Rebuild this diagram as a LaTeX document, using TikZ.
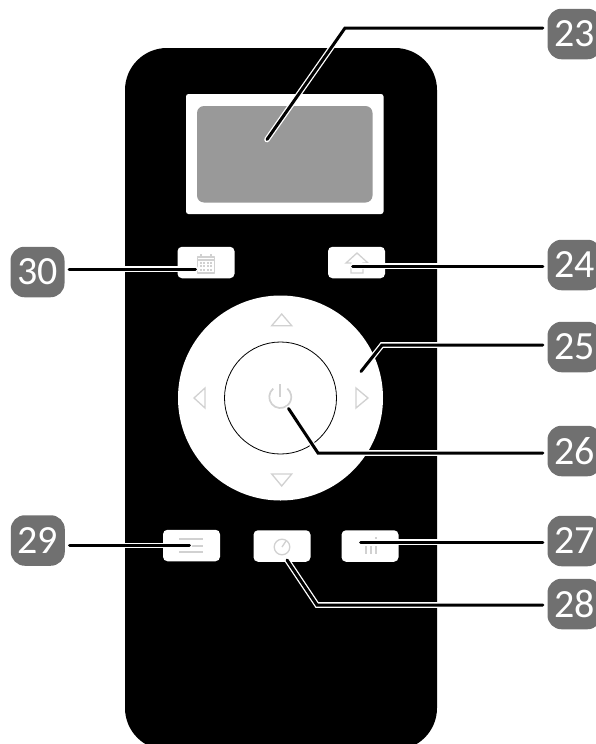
\documentclass[tikz,border=0pt]{standalone}
\usepackage{fontspec}
\setmainfont{Carlito}

\begin{document}
\begin{tikzpicture}[x=1pt, y=-1pt,
		numbox/.style={fill=numgray, text=white, rounded corners=14pt, inner sep=0pt, minimum width=54pt, minimum height=50.5pt, font=\fontsize{40}{40}\selectfont},
		keybox/.style={fill=white, rounded corners=4.5pt, inner sep=0pt, minimum width=57pt, minimum height=31.5pt},
		icon/.style={draw=icongray, line width=1.3pt},
		leader/.style={draw=black, line width=3pt, line cap=round, shorten >=4.5pt, preaction={draw=white, line width=5.6pt, line cap=round, shorten >=4.5pt}}]
	\definecolor{numgray}{gray}{0.44}
	\definecolor{icongray}{gray}{0.82}
	\definecolor{screengray}{gray}{0.6}
	\useasboundingbox (0,0) rectangle (596,744);
	\clip (0,0) rectangle (596,744);

	% remote
	\fill[black, rounded corners=42pt] (125,48) rectangle (437,750);
	\fill[white, rounded corners=2.5pt] (186,94) rectangle (383.5,214);
	\fill[screengray, rounded corners=7pt] (197,106) rectangle (372.5,202.5);
	\fill[white] (280.5,398) circle (102.5);
	\draw[black, line width=0.8pt] (280.5,398) circle (56);

	% keys
	\node[keybox] (cal) at (206,262.5) {};
	\node[keybox] (home) at (356.5,262.5) {};
	\node[keybox] (menu) at (191.5,545.5) {};
	\node[keybox] (clock) at (282,546) {};
	\node[keybox] (trash) at (370,546) {};

	% icons
	\draw[icon, line join=round] (197.5,257) rectangle (214.5,273);
	\draw[icon] (197.5,260) -- (214.5,260);
	\draw[icon] (201,254) -- (201,257) (211,254) -- (211,257);
	\foreach \i in {0,...,3} {
		\foreach \j in {0,...,2} {
			\fill[icongray] ({200.8+\i*3.4-0.9},{262.8+\j*3.4-0.9}) rectangle +(1.8,1.8);
		}
	}
	\draw[icon, line join=miter] (351,273) -- (351,263) -- (346,263) -- (357,253) -- (368,263) -- (363,263) -- (363,273) -- cycle;
	\foreach \i in {539,546,552} {
		\draw[icon] (179,\i) -- (203,\i);
	}
	\draw[icon] (282,547) circle (7.8);
	\draw[icon] (282,547) -- (286,541);
	\foreach \i in {366,371,376} {
		\draw[icon] (\i,546) -- (\i,554);
	}
	\draw[icon] (376,537) -- (376,539);
	\draw[icon, line join=miter] (271.7,325.7) -- (281.7,314) -- (291.7,325.7) -- cycle;
	\draw[icon, line join=miter] (271.7,474) -- (281.7,486) -- (291.7,474) -- cycle;
	\draw[icon, line join=miter] (205,388) -- (194,398) -- (205,408) -- cycle;
	\draw[icon, line join=miter] (356,388) -- (368,398) -- (356,408) -- cycle;
	\draw[icon, line width=1.7pt] (273.2,388.6) arc[start angle=130, end angle=410, radius=11pt];
	\draw[icon, line width=1.7pt] (280.3,384) -- (280.3,397);

	% numbers
	\node[numbox] (l23) at (574.5,34) {23};
	\node[numbox] (l24) at (574.5,265) {24};
	\node[numbox] (l25) at (574.5,347) {25};
	\node[numbox] (l26) at (574.5,451) {26};
	\node[numbox] (l27) at (574.5,541) {27};
	\node[numbox] (l28) at (574.5,604) {28};
	\node[numbox] (l29) at (37.8,540.5) {29};
	\node[numbox] (l30) at (37.5,272) {30};

	% tips
	\coordinate (t23) at (267,139.5);
	\coordinate (b23) at (345,28);
	\coordinate (t24) at (352.5,266);
	\coordinate (t25) at (361,371.5);
	\coordinate (b25) at (382,345);
	\coordinate (t26) at (288.5,408.5);
	\coordinate (b26) at (318,453);
	\coordinate (t27) at (360.5,542);
	\coordinate (t28) at (287,560);
	\coordinate (b28) at (317,605);
	\coordinate (t29) at (189.5,545.5);
	\coordinate (t30) at (195.5,269);

	% leaders
	\draw[leader] (t23) -- (b23) -- (b23 -| l23.west);
	\draw[leader] (t24) -- (t24 -| l24.west);
	\draw[leader] (t25) -- (b25) -- (b25 -| l25.west);
	\draw[leader] (t26) -- (b26) -- (b26 -| l26.west);
	\draw[leader] (t27) -- (t27 -| l27.west);
	\draw[leader] (t28) -- (b28) -- (b28 -| l28.west);
	\draw[leader] (t29) -- (t29 -| l29.east);
	\draw[leader] (t30) -- (t30 -| l30.east);
\end{tikzpicture}
\end{document}
